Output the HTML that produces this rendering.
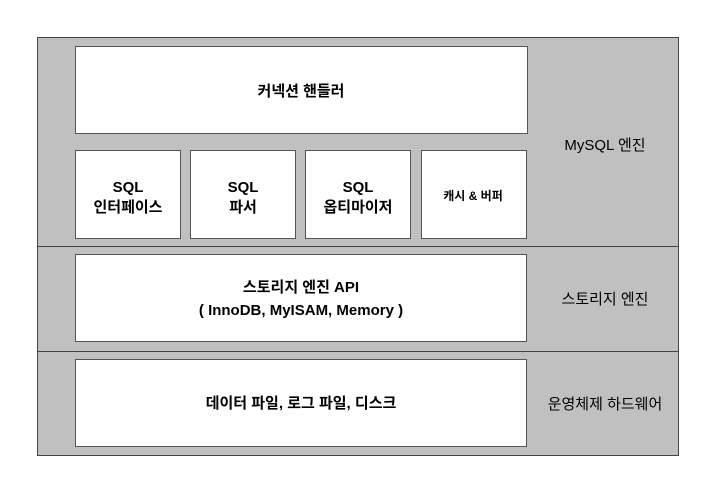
<!DOCTYPE html>
<html><head><meta charset="utf-8"><style>
html,body{margin:0;padding:0;background:#fff;}
svg{display:block;font-family:"Liberation Sans","Noto Sans CJK KR",sans-serif;}
</style></head><body>
<svg width="715" height="492" viewBox="0 0 715 492" xmlns="http://www.w3.org/2000/svg">
<rect x="37.5" y="37.5" width="641" height="418" fill="#c0c0c0" stroke="#444" stroke-width="1"/>
<line x1="37" y1="246.5" x2="679" y2="246.5" stroke="#444"/>
<line x1="37" y1="351.5" x2="679" y2="351.5" stroke="#444"/>
<g fill="#fff" stroke="#555" stroke-width="1">
<rect x="75.5" y="46.5" width="452" height="87"/>
<rect x="75.5" y="150.5" width="105" height="88"/>
<rect x="190.5" y="150.5" width="105" height="88"/>
<rect x="305.5" y="150.5" width="105" height="88"/>
<rect x="421.5" y="150.5" width="105" height="88"/>
<rect x="75.5" y="254.5" width="451" height="87"/>
<rect x="75.5" y="359.5" width="451" height="87"/>
</g>
<g fill="#000" text-anchor="middle" font-weight="bold" font-size="15">
<text x="301" y="96">커넥션 핸들러</text>
<text x="128" y="192">SQL</text><text x="128" y="212">인터페이스</text>
<text x="243" y="192">SQL</text><text x="243" y="212">파서</text>
<text x="358" y="192">SQL</text><text x="358" y="212">옵티마이저</text>
<text x="473" y="200" font-size="12">캐시 &amp; 버퍼</text>
<text x="301" y="292">스토리지 엔진 API</text>
<text x="301" y="315">( InnoDB, MyISAM, Memory )</text>
<text x="301" y="408">데이터 파일, 로그 파일, 디스크</text>
</g>
<g fill="#000" text-anchor="middle" font-size="15">
<text x="605" y="150">MySQL 엔진</text>
<text x="605" y="304">스토리지 엔진</text>
<text x="605" y="409">운영체제 하드웨어</text>
</g>
</svg>
</body></html>
